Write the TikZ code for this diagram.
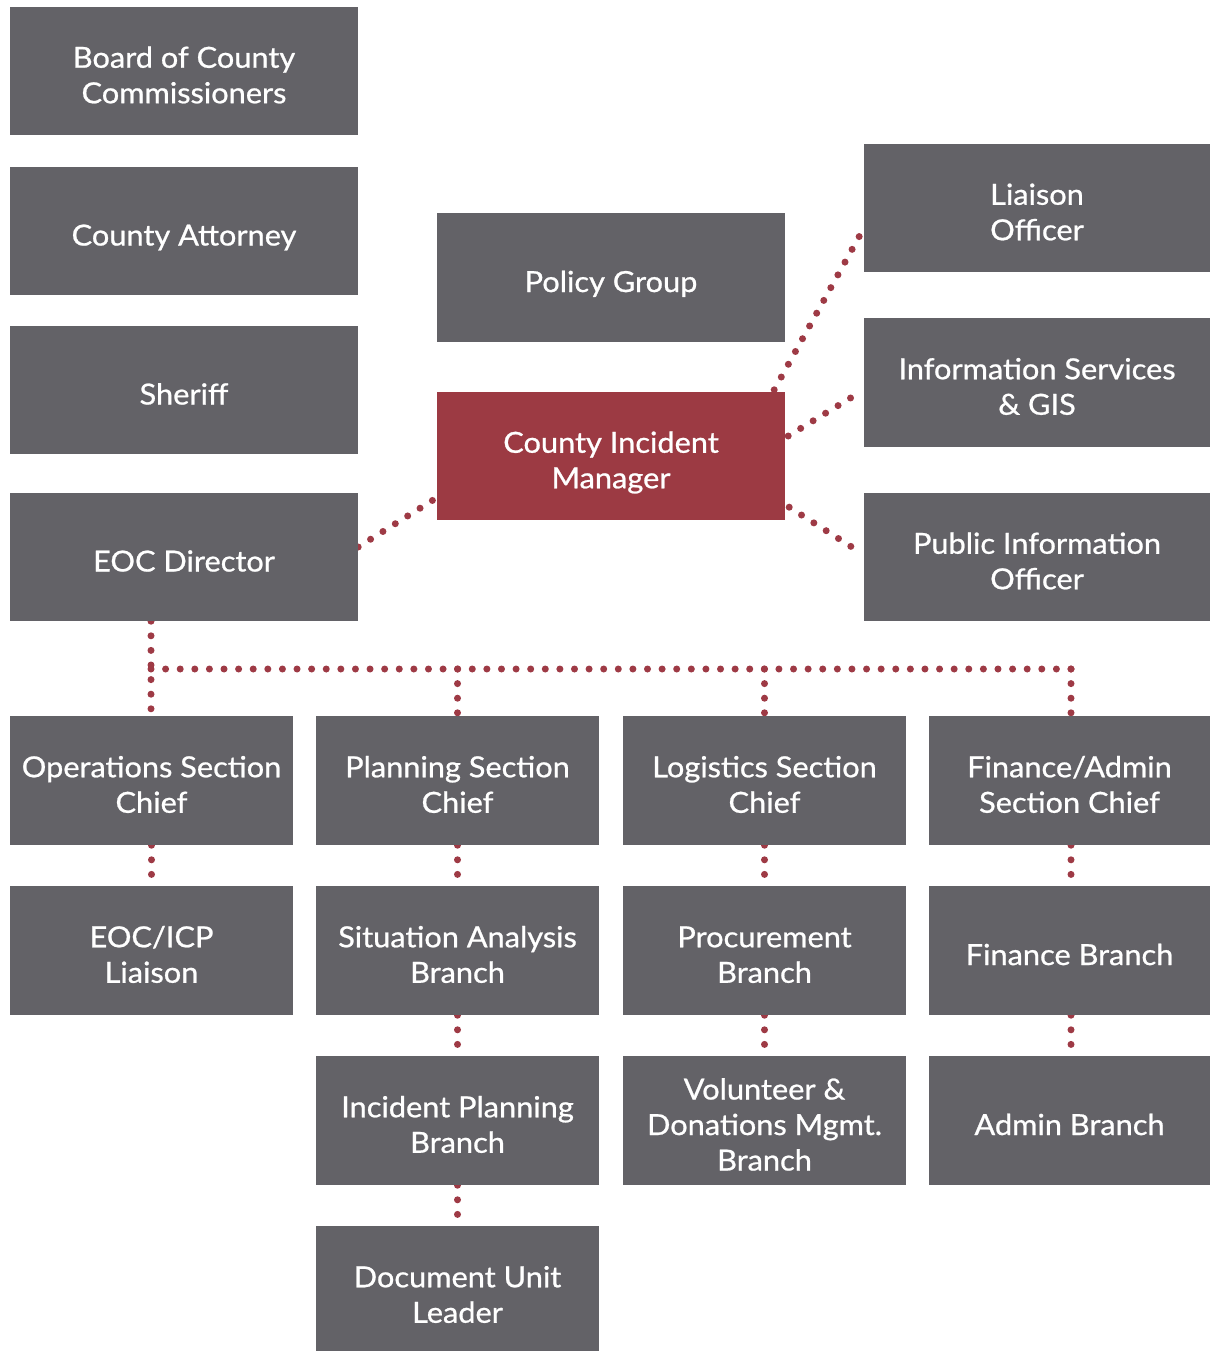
\documentclass[tikz,border=0pt]{standalone}
\usepackage{fontspec}
\setmainfont{Lato}[FakeStretch=1.06, FakeBold=0.8]
\usetikzlibrary{calc,backgrounds}
\definecolor{boxgray}{HTML}{636267}
\definecolor{mgrred}{HTML}{9C3A43}
\definecolor{dotred}{HTML}{9E3A45}
% fixed first-line height so every label sits at the same optical level
\newcommand\firstline{\vrule height35pt depth0pt width0pt\relax}
\begin{document}
\begin{tikzpicture}[x=1pt,y=-1pt,
  unit/.style={fill=boxgray, text=white, align=center, inner sep=0pt,
    font=\fontsize{29}{35.5}\selectfont, text depth=6pt},
  wide/.style={unit, minimum width=348, minimum height=128},
  side/.style={unit, minimum width=346, minimum height=128},
  sect/.style={unit, minimum width=283, minimum height=129},
  lead/.style={wide, fill=mgrred},
  dotline/.style={draw=dotred, line width=7pt, line cap=round,
    dash pattern=on 0pt off 14.6pt}]
\useasboundingbox (0,0) rectangle (1210,1351);

% left column
\node[wide] (board) at (184,71) {\firstline Board of County\\Commissioners};
\node[wide] (attorney) at (184,231) {\firstline County Attorney};
\node[wide] (sheriff) at (184,390) {\firstline Sheriff};
\node[wide] (eocdir) at (184,557) {\firstline EOC Director};

% centre column
\node[wide, minimum height=129] (policy) at (611,277.5) {\firstline Policy Group};
\node[lead] (cim) at (611,456) {\firstline County Incident\\Manager};

% right column
\node[side] (liaison) at (1037,208) {\firstline Liaison\\Officer};
\node[side, minimum height=129] (info) at (1037,382.5) {\firstline Information Services\\\& GIS};
\node[side] (pio) at (1037,557) {\firstline Public Information\\Officer};

% sections
\node[sect] (ops) at (151.5,780.5) {\firstline Operations Section\\Chief};
\node[sect] (plan) at (457.5,780.5) {\firstline Planning Section\\Chief};
\node[sect] (log) at (764.5,780.5) {\firstline Logistics Section\\Chief};
\node[sect, minimum width=281] (fin) at (1069.5,780.5) {\firstline Finance/Admin\\Section Chief};

% branches
\node[sect] (icp) at (151.5,950.5) {\firstline EOC/ICP\\Liaison};
\node[sect] (sit) at (457.5,950.5) {\firstline Situation Analysis\\Branch};
\node[sect] (proc) at (764.5,950.5) {\firstline Procurement\\Branch};
\node[sect, minimum width=281] (finb) at (1069.5,950.5) {\firstline Finance Branch};

\node[sect] (iplan) at (457.5,1120.5) {\firstline Incident Planning\\Branch};
\node[sect] (vol) at (764.5,1120.5) {\firstline Volunteer \&\\Donations Mgmt.\\Branch};
\node[sect, minimum width=281] (adm) at (1069.5,1120.5) {\firstline Admin Branch};

\node[sect] (doc) at (457.5,1290.5) {\firstline Document Unit\\Leader};

\coordinate (busL) at (151,669);
\coordinate (busR) at (1071,669);

\begin{scope}[on background layer]
  \fill[white] (0,0) rectangle (1210,1351);

  % links around the incident manager
  \draw[dotline] ($(eocdir.east)+(0,-10)$) -- ($(cim.south west)+(-4,-20)$);
  \draw[dotline] ($(cim.north east)+(-11,-2)$) -- ($(liaison.west)+(-1,22)$);
  \draw[dotline] ($(cim.east)+(3,-20)$) -- ($(info.west)+(-1,8)$);
  \draw[dotline] ($(cim.south east)+(4,-13)$) -- ($(pio.west)+(-1,-3)$);

  % distribution bus to the sections
  \draw[dotline] (busL |- eocdir.south) -- (busL) -- (ops.north -| busL);
  \draw[dotline, dash pattern=on 0pt off 14.603pt] (busL) -- (busR);
  \draw[dotline] (plan.north |- busL) -- (plan.north);
  \draw[dotline] (log.north |- busL) -- (log.north);
  \draw[dotline] (busR) -- (busR |- fin.north);

  % section to branch chains
  \draw[dotline] (ops.south) -- (icp.north);
  \draw[dotline] (plan.south) -- (sit.north);
  \draw[dotline] (sit.south) -- (iplan.north);
  \draw[dotline] (iplan.south) -- (doc.north);
  \draw[dotline] (log.south) -- (proc.north);
  \draw[dotline] (proc.south) -- (vol.north);
  \draw[dotline] (busR |- fin.south) -- (busR |- finb.north);
  \draw[dotline] (busR |- finb.south) -- (busR |- adm.north);
\end{scope}
\end{tikzpicture}
\end{document}
